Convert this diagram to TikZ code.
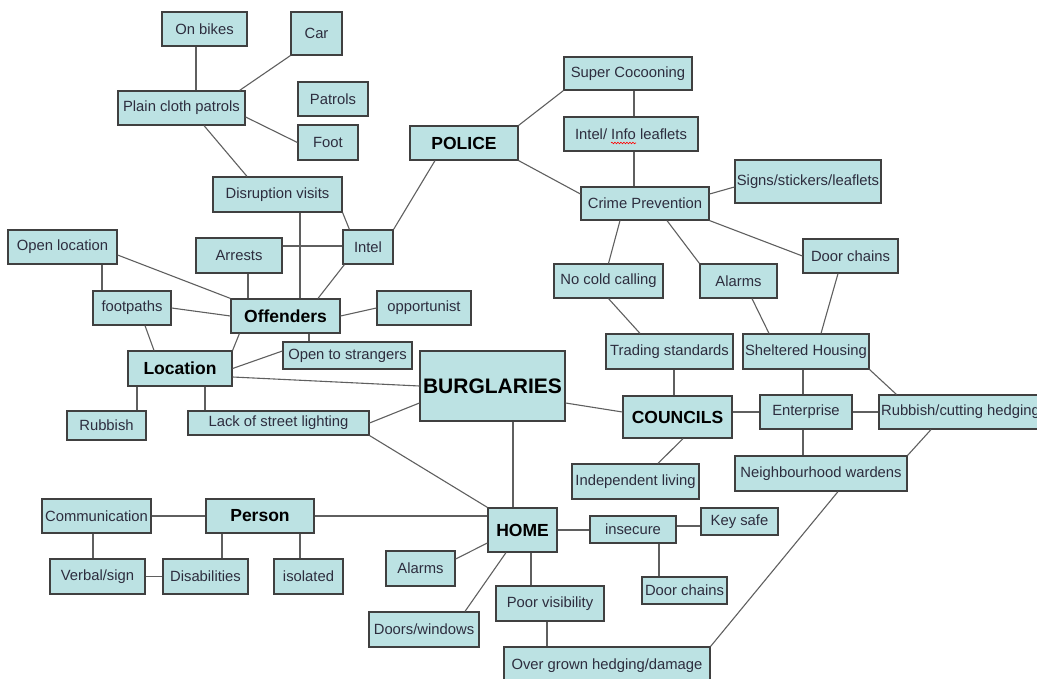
\documentclass[tikz,border=0pt]{standalone}
\usepackage{fontspec}
\setmainfont{Liberation Sans}
\usetikzlibrary{decorations.pathmorphing}
\definecolor{boxfill}{RGB}{188,226,227}
\definecolor{boxline}{RGB}{64,64,64}
\definecolor{linkgray}{RGB}{95,95,95}
\definecolor{txtgray}{RGB}{45,45,62}

\begin{document}
\begin{tikzpicture}[x=1pt, y=-1pt,
  box/.style={rectangle, draw=boxline, line width=1.2pt, fill=boxfill,
              inner sep=0pt, text=txtgray, font=\fontsize{14.8}{16}\selectfont},
  hub/.style={box, text=black, font=\fontsize{17.5}{19}\selectfont\bfseries},
  wh/.style 2 args={minimum width=#1, minimum height=#2},
  link/.style={draw=linkgray, line width=1.1pt}
]
\useasboundingbox (0,0) rectangle (1037,679);
\clip (0,0) rectangle (1037,679);
\node[box, wh={85}{34}] (bikes) at (204.5,29) {On bikes};
\node[box, wh={51}{43}] (car) at (316.5,33.5) {Car};
\node[box, wh={127}{34}] (plain) at (181.5,108) {Plain cloth patrols};
\node[box, wh={70}{34}] (patrols) at (333,99) {Patrols};
\node[box, wh={60}{35}] (foot) at (328,142.5) {Foot};
\node[hub, wh={108}{34}] (police) at (464,143) {POLICE};
\node[box, wh={128}{33}] (cocoon) at (628,73.5) {Super Cocooning};
\node[box, wh={134}{34}] (leaflets) at (631,134) {Intel/ Info leaflets};
\node[box, wh={128}{33}] (crime) at (645,203.5) {Crime Prevention};
\node[box, wh={146}{43}] (signs) at (808,181.5) {Signs/stickers/leaflets};
\node[box, wh={129}{35}] (disrupt) at (277.5,194.5) {Disruption visits};
\node[box, wh={109}{34}] (openloc) at (62.5,247) {Open location};
\node[box, wh={86}{35}] (arrests) at (239,255.5) {Arrests};
\node[box, wh={50}{34}] (intel) at (368,247) {Intel};
\node[box, wh={95}{34}] (chainsA) at (850.5,256) {Door chains};
\node[box, wh={109}{34}] (nocold) at (608.5,281) {No cold calling};
\node[box, wh={77}{34}] (alarmsA) at (738.5,281) {Alarms};
\node[box, wh={78}{34}] (footpaths) at (132,308) {footpaths};
\node[hub, wh={109}{34}] (offenders) at (285.5,316) {Offenders};
\node[box, wh={94}{34}] (opport) at (424,308) {opportunist};
\node[hub, wh={104}{35}] (location) at (180,368.5) {Location};
\node[box, wh={129}{27}] (strangers) at (347.5,355.5) {Open to strangers};
\node[hub, wh={145}{70}, font=\fontsize{21}{23}\selectfont\bfseries] (burg) at (492.5,386) {BURGLARIES};
\node[box, wh={127}{35}] (trading) at (669.5,351.5) {Trading standards};
\node[box, wh={126}{35}] (sheltered) at (806,351.5) {Sheltered Housing};
\node[hub, wh={109}{42}] (councils) at (677.5,417) {COUNCILS};
\node[box, wh={92}{34}] (enterprise) at (806,412) {Enterprise};
\node[box, wh={163}{34}] (hedging) at (960.5,412) {Rubbish/cutting hedging};
\node[box, wh={79}{29}] (rubbish) at (106.5,425.5) {Rubbish};
\node[box, wh={181}{24}] (lighting) at (278.5,423) {Lack of street lighting};
\node[box, wh={127}{35}] (indep) at (635.5,481.5) {Independent living};
\node[box, wh={172}{35}] (wardens) at (821,473.5) {Neighbourhood wardens};
\node[box, wh={109}{34}] (comm) at (96.5,516) {Communication};
\node[hub, wh={108}{34}] (person) at (260,516) {Person};
\node[hub, wh={69}{44}] (home) at (522.5,530) {HOME};
\node[box, wh={86}{27}] (insecure) at (633,529.5) {insecure};
\node[box, wh={77}{27}] (keysafe) at (739.5,521.5) {Key safe};
\node[box, wh={95}{35}] (verbal) at (97.5,576.5) {Verbal/sign};
\node[box, wh={85}{35}] (disab) at (205.5,576.5) {Disabilities};
\node[box, wh={69}{35}] (isolated) at (308.5,576.5) {isolated};
\node[box, wh={69}{35}] (alarmsB) at (420.5,568.5) {Alarms};
\node[box, wh={85}{27}] (chainsB) at (684.5,590.5) {Door chains};
\node[box, wh={108}{35}] (poorvis) at (550,603.5) {Poor visibility};
\node[box, wh={110}{35}] (doors) at (424,629.5) {Doors/windows};
\node[box, wh={206}{38}] (overgrown) at (607,666) {Over grown hedging/damage};
\draw[red, line width=0.6pt, decorate, decoration={snake, amplitude=0.8pt, segment length=3pt}]
  ([xshift=-20pt, yshift=-9pt]leaflets.center) -- ([xshift=5pt, yshift=-9pt]leaflets.center);
\draw[link] ([xshift=-8.5pt]bikes.south) -- ([xshift=14.5pt]plain.north);
\draw[link] (car.south west) -- ([xshift=-6pt]plain.north east);
\draw[link] ([yshift=-9pt]plain.east) -- (foot.west);
\draw[link] ([xshift=22.5pt]plain.south) -- ([xshift=-30.5pt]disrupt.north);
\draw[link] ([xshift=22.5pt]disrupt.south) -- ([xshift=22.5pt]disrupt.south |- offenders.north);
\draw[link] (disrupt.south east) -- ([xshift=7pt]intel.north west);
\draw[link] (intel.north east) -- ([xshift=-29pt]police.south);
\draw[link] ([yshift=9.5pt]arrests.east) -- ([yshift=9.5pt]arrests.east -| intel.west);
\draw[link] ([xshift=9pt]arrests.south) -- ([xshift=9pt]arrests.south |- offenders.north);
\draw[link] ([xshift=2pt]intel.south west) -- ([xshift=32.5pt]offenders.north);
\draw[link] ([yshift=-8pt]openloc.east) -- (offenders.north west);
\draw[link] ([xshift=39.5pt]openloc.south) -- ([xshift=39.5pt]openloc.south |- footpaths.north);
\draw[link] (footpaths.east) -- (offenders.west);
\draw[link] ([xshift=13pt]footpaths.south) -- ([xshift=-26pt]location.north);
\draw[link] ([xshift=9pt]offenders.south west) -- (location.north east);
\draw[link] (opport.west) -- (offenders.east);
\draw[link] ([xshift=23.5pt]offenders.south) -- ([xshift=23.5pt]offenders.south |- strangers.north);
\draw[link] ([yshift=4.5pt]strangers.west) -- (location.east);
\draw[link] ([yshift=-8.5pt]location.east) -- (burg.west);
\draw[link] ([xshift=-43pt]location.south) -- ([xshift=-43pt]location.south |- rubbish.north);
\draw[link] ([xshift=25pt]location.south) -- ([xshift=25pt]location.south |- lighting.north);
\draw[link] (lighting.east) -- ([yshift=-17pt]burg.west);
\draw[link] (lighting.south east) -- (home.north west);
\draw[link] ([xshift=20.5pt]burg.south) -- ([xshift=20.5pt]burg.south |- home.north);
\draw[link] ([yshift=-17pt]burg.east) -- ([yshift=5pt]councils.west);
\draw[link] (police.north east) -- (cocoon.south west);
\draw[link] ([xshift=6pt]cocoon.south) -- ([xshift=6pt]cocoon.south |- leaflets.north);
\draw[link] ([xshift=3pt]leaflets.south) -- ([xshift=3pt]leaflets.south |- crime.north);
\draw[link] (police.south east) -- ([yshift=9.5pt]crime.west);
\draw[link] ([yshift=9.5pt]crime.east) -- ([yshift=-5.5pt]signs.west);
\draw[link] ([xshift=-25pt]crime.south) -- (nocold.north);
\draw[link] ([xshift=22pt]crime.south) -- (alarmsA.north west);
\draw[link] (crime.south east) -- (chainsA.west);
\draw[link] (nocold.south) -- ([xshift=-29.5pt]trading.north);
\draw[link] ([xshift=13.5pt]alarmsA.south) -- ([xshift=-37pt]sheltered.north);
\draw[link] ([xshift=-12.5pt]chainsA.south) -- ([xshift=15pt]sheltered.north);
\draw[link] ([xshift=4.5pt]trading.south) -- ([xshift=4.5pt]trading.south |- councils.north);
\draw[link] ([xshift=-3pt]sheltered.south) -- ([xshift=-3pt]sheltered.south |- enterprise.north);
\draw[link] (sheltered.south east) -- ([xshift=18pt]hedging.north west);
\draw[link] ([yshift=5pt]councils.east) -- (enterprise.west);
\draw[link] (enterprise.east) -- (hedging.west);
\draw[link] ([xshift=-3pt]enterprise.south) -- ([xshift=-3pt]enterprise.south |- wardens.north);
\draw[link] ([xshift=-29.5pt]hedging.south) -- (wardens.north east);
\draw[link] ([xshift=5.5pt]councils.south) -- ([xshift=22.5pt]indep.north);
\draw[link] ([xshift=17pt]wardens.south) -- (overgrown.north east);
\draw[link] (comm.east) -- (person.west);
\draw[link] (person.east) -- (person.east -| home.west);
\draw[link] ([xshift=-3.5pt]comm.south) -- ([xshift=-3.5pt]comm.south |- verbal.north);
\draw[link] (verbal.east) -- (disab.west);
\draw[link] ([xshift=-38pt]person.south) -- ([xshift=-38pt]person.south |- disab.north);
\draw[link] ([xshift=40pt]person.south) -- ([xshift=40pt]person.south |- isolated.north);
\draw[link] ([yshift=9.5pt]alarmsB.east) -- ([yshift=-13pt]home.west);
\draw[link] ([xshift=41pt]doors.north) -- ([xshift=-16.5pt]home.south);
\draw[link] ([xshift=8.5pt]home.south) -- ([xshift=8.5pt]home.south |- poorvis.north);
\draw[link] ([xshift=-3pt]poorvis.south) -- ([xshift=-3pt]poorvis.south |- overgrown.north);
\draw[link] (home.east) -- (home.east -| insecure.west);
\draw[link] ([yshift=3.5pt]insecure.east) -- ([yshift=3.5pt]insecure.east -| keysafe.west);
\draw[link] ([xshift=26pt]insecure.south) -- ([xshift=26pt]insecure.south |- chainsB.north);
\end{tikzpicture}
\end{document}
